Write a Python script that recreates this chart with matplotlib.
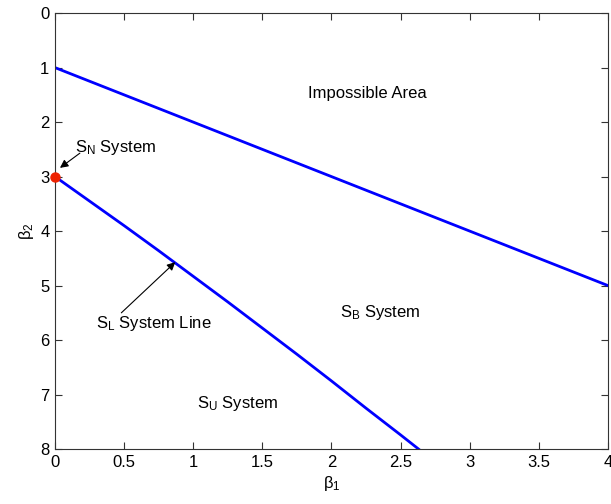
import numpy as np
import matplotlib.pyplot as plt

plt.rcParams['font.family'] = ['Liberation Sans', 'DejaVu Sans']
plt.rcParams['mathtext.default'] = 'regular'

# upper boundary (impossible area limit)
upper_b1 = [0, 4]
upper_b2 = [1, 5]

# lognormal S_L line
sl_b1 = [0, 0.25, 0.5, 0.75, 1.0, 1.25, 1.5, 1.75, 2.0, 2.25, 2.5, 2.63]
sl_b2 = [3.0, 3.45, 3.90, 4.36, 4.83, 5.30, 5.78, 6.26, 6.75, 7.25, 7.74, 8.0]

# normal point
sn_b1 = [0]
sn_b2 = [3]

fig = plt.figure(figsize=(6.11, 5.04), dpi=100)
ax = fig.add_axes([0.090, 0.109, 0.905, 0.865])

ax.plot(upper_b1, upper_b2, color='#0000ff', lw=2)
ax.plot(sl_b1, sl_b2, color='#0000ff', lw=2)
ax.plot(sn_b1, sn_b2, 'o', color='#ee2200', ms=6.5, clip_on=False, zorder=5)

ax.set_xlim(0, 4)
ax.set_ylim(8, 0)
ax.set_xticks([0, 0.5, 1, 1.5, 2, 2.5, 3, 3.5, 4])
ax.set_xticklabels(['0', '0.5', '1', '1.5', '2', '2.5', '3', '3.5', '4'])
ax.set_yticks(range(9))
ax.tick_params(direction='in', top=True, right=True, labelsize=12,
               length=5, color='#333333', pad=4)
for s in ax.spines.values():
    s.set_color('#333333')
ax.set_xlabel('β$_1$', fontsize=12, labelpad=3)
ax.set_ylabel('β$_2$', fontsize=12, labelpad=3)

fs = 12
ax.text(2.26, 1.47, 'Impossible Area', fontsize=fs, ha='center', va='center')
ax.text(2.35, 5.5, 'S$_B$ System', fontsize=fs, ha='center', va='center')
ax.text(1.32, 7.17, 'S$_U$ System', fontsize=fs, ha='center', va='center')
ax.text(0.145, 2.46, 'S$_N$ System', fontsize=fs, ha='left', va='center')
ax.text(0.30, 5.69, 'S$_L$ System Line', fontsize=fs, ha='left', va='center')
ax.annotate('', xy=(0.036, 2.84), xytext=(0.18, 2.57),
            arrowprops=dict(arrowstyle='-|>', color='black', lw=0.8,
                            shrinkA=0, shrinkB=0, mutation_scale=12))
ax.annotate('', xy=(0.87, 4.57), xytext=(0.48, 5.50),
            arrowprops=dict(arrowstyle='-|>', color='black', lw=0.8,
                            shrinkA=0, shrinkB=0, mutation_scale=12))

plt.savefig('out.png')
